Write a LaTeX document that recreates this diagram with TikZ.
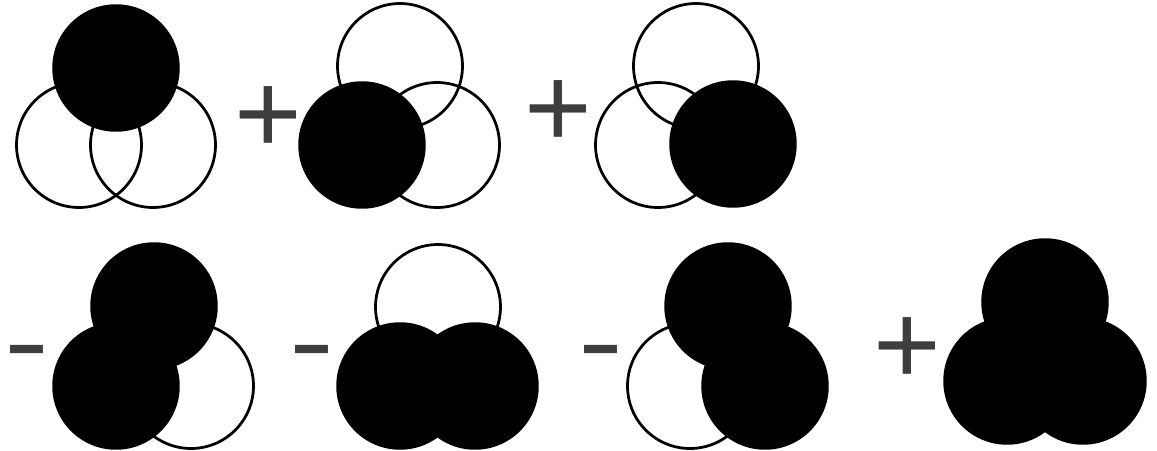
\documentclass[tikz,border=0pt]{standalone}
\usepackage{fontspec}
\setmainfont{Liberation Sans}
\usepackage{xcolor}
\definecolor{signgray}{RGB}{62,62,62}

\begin{document}
\begin{tikzpicture}[x=0.02cm, y=-0.02cm,
    vset/.style={circle, draw=black, line width=0.055cm, minimum size=2.5cm, inner sep=0pt},
    vfill/.style={circle, fill=black, minimum size=2.55cm, inner sep=0pt},
    plus/.style={text=signgray, inner sep=0pt, font=\fontsize{66}{66}\selectfont},
    minus/.style={text=signgray, inner sep=0pt, anchor=base, font=\fontsize{60}{60}\selectfont}]
\useasboundingbox (0,0) rectangle (1157,450);
% A
\node[vset] (l1) at (79,145) {};
\node[vset] (r1) at (153,145) {};
\node[vfill] (t1) at (116,68) {};
\node[plus] (p1) at (268,120) {+};
% B
\node[vset] (t2) at (400,66) {};
\node[vset] (r2) at (437,145) {};
\node[vfill] (l2) at (362,145) {};
\node[plus] (p2) at (558,114) {+};
% C
\node[vset] (t3) at (696,66) {};
\node[vset] (l3) at (658,145) {};
\node[vfill] (r3) at (733,144) {};
% A and B
\node[minus] (m1) at (27,377) {\scalebox{1.28}[1]{-}};
\node[vset] (r4) at (191,386) {};
\node[vfill] (t4) at (154,306) {};
\node[vfill] (l4) at (116,386) {};
% A and C
\node[minus] (m2) at (312,377) {\scalebox{1.28}[1]{-}};
\node[vset] (t5) at (438,307) {};
\node[vfill] (l5) at (400,386) {};
\node[vfill] (r5) at (475,386) {};
% B and C
\node[minus] (m3) at (601,377) {\scalebox{1.28}[1]{-}};
\node[vset] (l6) at (690,386) {};
\node[vfill] (t6) at (728,306) {};
\node[vfill] (r6) at (765,386) {};
% A, B and C
\node[plus] (p3) at (907,351) {+};
\node[vfill] (t7) at (1045,302) {};
\node[vfill] (l7) at (1007,381) {};
\node[vfill] (r7) at (1083,381) {};
\end{tikzpicture}
\end{document}
